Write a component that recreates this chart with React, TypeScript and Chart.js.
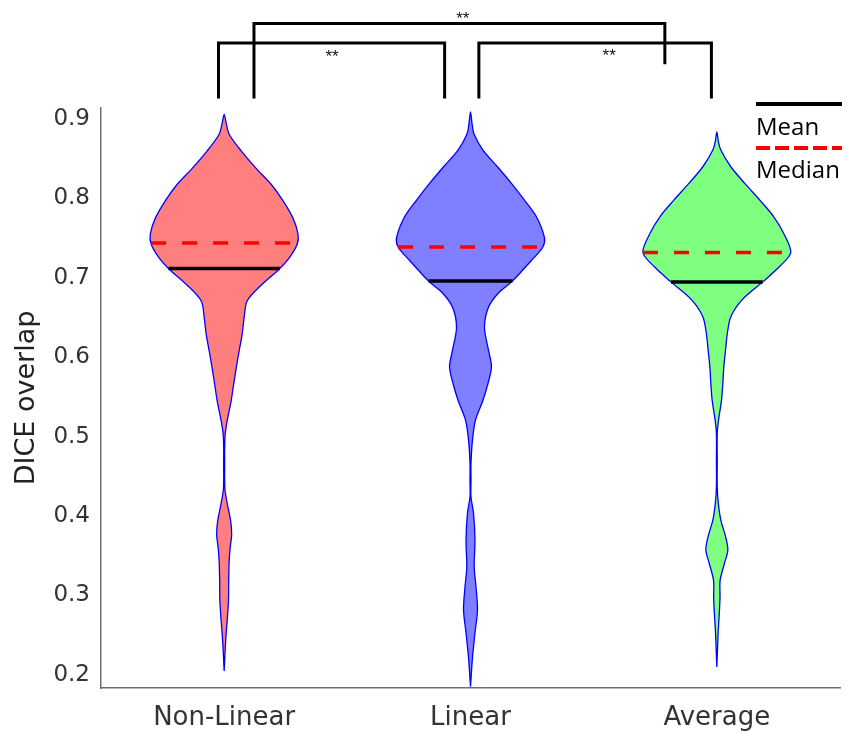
import React, { useEffect, useRef } from 'react';
import { Chart, registerables } from 'chart.js';

Chart.register(...registerables);

// ---- data ----
const CATEGORIES = ['Non-Linear', 'Linear', 'Average'];
const FILL_COLORS = ['#ff7f7f', '#7f7fff', '#7fff7f'];

// violin density profiles (value on y, relative density)
const NL_Y = [0.205, 0.243, 0.268, 0.293, 0.318, 0.343, 0.360, 0.377, 0.394, 0.410, 0.431, 0.444, 0.465, 0.486, 0.503, 0.520, 0.545, 0.566, 0.586, 0.608, 0.629, 0.650, 0.671, 0.692, 0.711, 0.725, 0.742, 0.755, 0.775, 0.797, 0.818, 0.838, 0.860, 0.881, 0.895, 0.906];
const NL_D = [0, 1.5, 3, 4.3, 4.5, 5, 6, 7.5, 6.5, 4, 1, 0.5, 0.5, 0.5, 1, 3, 7, 9.5, 12, 15, 18, 20, 23, 38, 55, 65, 73, 74, 69, 59, 47, 32, 17, 5, 2, 0];

const LIN_Y = [0.185, 0.222, 0.253, 0.282, 0.311, 0.336, 0.370, 0.404, 0.424, 0.445, 0.467, 0.496, 0.521, 0.546, 0.567, 0.588, 0.609, 0.638, 0.663, 0.681, 0.696, 0.722, 0.739, 0.751, 0.777, 0.798, 0.819, 0.840, 0.861, 0.882, 0.895, 0.909];
const LIN_D = [0, 2, 4.5, 7, 5.5, 3.7, 4.5, 3, 0.5, 0.5, 0.5, 2, 5, 12.5, 17.5, 21, 18, 14, 18, 28, 42, 61, 72.5, 74, 66, 54, 41, 27, 12.5, 3.3, 1.5, 0];

const AVG_Y = [0.210, 0.253, 0.278, 0.298, 0.319, 0.340, 0.357, 0.373, 0.395, 0.416, 0.437, 0.470, 0.504, 0.521, 0.546, 0.567, 0.588, 0.609, 0.630, 0.651, 0.672, 0.695, 0.714, 0.732, 0.756, 0.777, 0.798, 0.819, 0.840, 0.861, 0.872, 0.884];
const AVG_D = [0, 1.3, 2.5, 3.2, 3.3, 7.5, 11, 9, 4, 1.5, 0.4, 0.4, 0.4, 1.7, 4.7, 6, 7, 8.7, 10.5, 14, 25, 46, 62.5, 74, 67, 57, 43, 28, 14, 4, 1.5, 0];

const MEANS = [0.712, 0.696, 0.695];
const MEDIANS = [0.744, 0.739, 0.732];

const Y_TICKS = [0.2, 0.3, 0.4, 0.5, 0.6, 0.7, 0.8, 0.9];

// significance brackets (x in category units, y in data units)
const BR_X1 = [-0.023, 0.121, 1.034];
const BR_X2 = [0.895, 1.789, 1.978];
const BR_TOP = [0.996, 1.0204, 0.996];
const BR_FOOT1 = [0.926, 0.926, 0.926];
const BR_FOOT2 = [0.926, 0.969, 0.926];
const STAR_X = [0.438, 0.969, 1.563];
const STAR_Y = [0.982, 1.030, 0.983];
const STAR_TEXT = ['**', '**', '**'];

const PROFILES = [
  { y: NL_Y, d: NL_D },
  { y: LIN_Y, d: LIN_D },
  { y: AVG_Y, d: AVG_D },
];

const MAX_HALF = 0.3; // widest half-width in category units
const MAX_D = Math.max(...NL_D, ...LIN_D, ...AVG_D);
const K = MAX_HALF / MAX_D;

function halfAt(p: { y: number[]; d: number[] }, v: number) {
  for (let i = 0; i < p.y.length - 1; i++) {
    if (v >= p.y[i] && v <= p.y[i + 1]) {
      const t = (v - p.y[i]) / (p.y[i + 1] - p.y[i]);
      return (p.d[i] + t * (p.d[i + 1] - p.d[i])) * K;
    }
  }
  return 0;
}

function violinPoints(i: number) {
  const p = PROFILES[i];
  const pts: { x: number; y: number }[] = [];
  for (let j = 0; j < p.y.length; j++) pts.push({ x: i + p.d[j] * K, y: p.y[j] });
  for (let j = p.y.length - 2; j >= 0; j--) pts.push({ x: i - p.d[j] * K, y: p.y[j] });
  return pts;
}

const annotations = {
  id: 'annotations',
  afterDraw(chart: any) {
    const { ctx, scales } = chart;
    const xs = scales.x;
    const ys = scales.y;
    ctx.save();
    ctx.strokeStyle = '#000';
    ctx.lineWidth = 3;
    ctx.lineJoin = 'miter';
    for (let i = 0; i < BR_X1.length; i++) {
      const x1 = xs.getPixelForValue(BR_X1[i]);
      const x2 = xs.getPixelForValue(BR_X2[i]);
      const yt = ys.getPixelForValue(BR_TOP[i]);
      const y1 = ys.getPixelForValue(BR_FOOT1[i]);
      const y2 = ys.getPixelForValue(BR_FOOT2[i]);
      ctx.beginPath();
      ctx.moveTo(x1, y1);
      ctx.lineTo(x1, yt);
      ctx.lineTo(x2, yt);
      ctx.lineTo(x2, y2);
      ctx.stroke();
    }
    ctx.fillStyle = '#111';
    ctx.font = '17px "Liberation Sans"';
    ctx.textAlign = 'center';
    ctx.textBaseline = 'middle';
    for (let i = 0; i < STAR_X.length; i++) {
      ctx.fillText(STAR_TEXT[i], xs.getPixelForValue(STAR_X[i]), ys.getPixelForValue(STAR_Y[i]) + 3);
    }
    // legend
    const lx0 = chart.width - 91;
    const lx1 = chart.width - 5;
    ctx.lineWidth = 4;
    ctx.strokeStyle = '#000';
    ctx.setLineDash([]);
    ctx.beginPath();
    ctx.moveTo(lx0, 104);
    ctx.lineTo(lx1, 104);
    ctx.stroke();
    ctx.strokeStyle = '#ff0000';
    ctx.setLineDash([14, 5]);
    ctx.beginPath();
    ctx.moveTo(lx0, 148);
    ctx.lineTo(lx1, 148);
    ctx.stroke();
    ctx.setLineDash([]);
    ctx.fillStyle = '#000';
    ctx.font = '24px "Open Sans"';
    ctx.textAlign = 'left';
    ctx.textBaseline = 'alphabetic';
    ctx.fillText('Mean', lx0, 135);
    ctx.fillText('Median', lx0, 178);
    ctx.restore();
  },
};

export default function App() {
  const ref = useRef<HTMLCanvasElement | null>(null);
  useEffect(() => {
    if (!ref.current) return;
    const datasets: any[] = [];
    for (let i = 0; i < CATEGORIES.length; i++) {
      const p = PROFILES[i];
      const hm = halfAt(p, MEANS[i]);
      const hd = halfAt(p, MEDIANS[i]);
      datasets.push({
        label: 'mean ' + CATEGORIES[i],
        data: [{ x: i - hm, y: MEANS[i] }, { x: i + hm, y: MEANS[i] }],
        showLine: true,
        borderColor: '#000',
        borderWidth: 3.5,
        pointRadius: 0,
        fill: false,
        order: 0,
      });
      datasets.push({
        label: 'median ' + CATEGORIES[i],
        data: [{ x: i - hd, y: MEDIANS[i] }, { x: i + hd, y: MEDIANS[i] }],
        showLine: true,
        borderColor: '#ff0000',
        borderWidth: 3.5,
        borderDash: [15, 16],
        pointRadius: 0,
        fill: false,
        order: 0,
      });
    }
    for (let i = 0; i < CATEGORIES.length; i++) {
      datasets.push({
        label: CATEGORIES[i],
        data: violinPoints(i),
        showLine: true,
        borderColor: '#0000ff',
        borderWidth: 1.3,
        backgroundColor: FILL_COLORS[i],
        fill: 'shape',
        tension: 0.3,
        pointRadius: 0,
        order: 1,
      });
    }
    const chart = new Chart(ref.current, {
      type: 'scatter',
      data: { datasets },
      options: {
        responsive: false,
        animation: false,
        events: [],
        layout: { padding: { top: 108, right: 7, left: 0, bottom: 0 } },
        plugins: { legend: { display: false }, tooltip: { enabled: false } },
        scales: {
          x: {
            type: 'linear',
            min: -0.5,
            max: 2.5,
            grid: { display: false, drawTicks: false },
            border: { display: true, color: '#6e6e6e', width: 1.5 },
            afterBuildTicks: (s: any) => {
              s.ticks = CATEGORIES.map((_, i) => ({ value: i }));
            },
            afterFit: (s: any) => {
              s.height = 45;
            },
            ticks: {
              callback: (v: any) => CATEGORIES[Math.round(v)] ?? '',
              font: { family: 'DejaVu Sans', size: 26 },
              color: '#333',
              padding: 15,
              maxRotation: 0,
              autoSkip: false,
            },
          },
          y: {
            type: 'linear',
            min: 0.1835,
            max: 0.914,
            grid: { display: false, drawTicks: false },
            border: { display: true, color: '#6e6e6e', width: 1.5 },
            afterBuildTicks: (s: any) => {
              s.ticks = Y_TICKS.map((v) => ({ value: v }));
            },
            afterFit: (s: any) => {
              s.width = 101;
            },
            ticks: {
              callback: (v: any) => Number(v).toFixed(1),
              font: { family: 'DejaVu Sans', size: 23 },
              color: '#333',
              padding: 11,
            },
            title: {
              display: true,
              text: 'DICE overlap',
              font: { family: 'DejaVu Sans', size: 27 },
              color: '#222',
              padding: { top: 11, bottom: 0 },
            },
          },
        },
      },
      plugins: [annotations],
    });
    return () => chart.destroy();
  }, []);
  return (
    <div style={{ position: 'absolute', left: 0, top: 0, width: 847, height: 733 }}>
      <canvas ref={ref} width={847} height={733} style={{ width: 847, height: 733, display: 'block' }} />
    </div>
  );
}
